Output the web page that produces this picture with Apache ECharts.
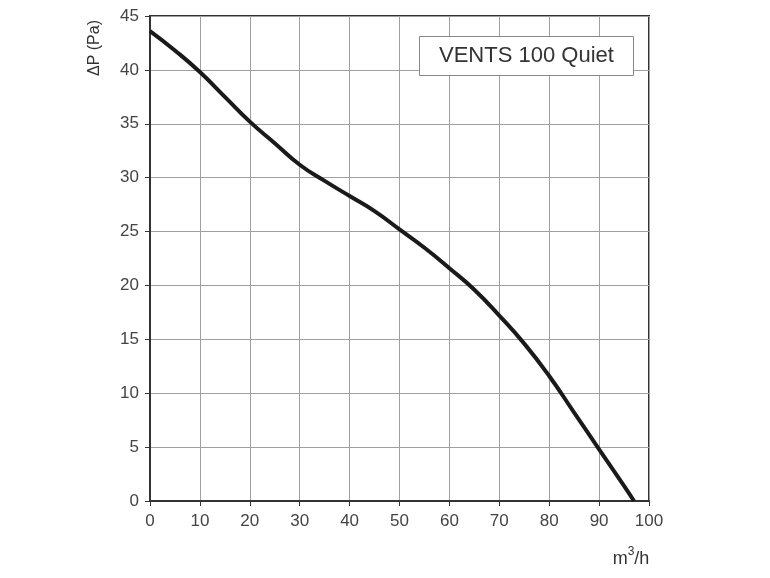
<!DOCTYPE html>
<html><head><meta charset="utf-8">
<script src="https://cdn.jsdelivr.net/npm/echarts@6/dist/echarts.min.js"></script>
<style>html,body{margin:0;padding:0;background:#fff}#c{width:770px;height:578px}</style>
</head><body><div id="c"></div>
<script>
const flow = [0, 5, 10, 15, 20, 25, 30, 35, 40, 45, 50, 55, 60, 65, 70, 75, 80, 85, 90, 95, 97];
const pressure = [43.6, 41.8, 39.8, 37.5, 35.2, 33.2, 31.2, 29.7, 28.3, 26.9, 25.2, 23.5, 21.6, 19.6, 17.2, 14.6, 11.6, 8.2, 4.8, 1.4, 0];
const title = 'VENTS 100 Quiet';
const yName = 'ΔP (Pa)';
const xNameBase = 'm';
const xNameSup = '3';
const xNameTail = '/h';

const chart = echarts.init(document.getElementById('c'));
const FONT = 'Liberation Sans, Arial';
const axisCommon = {
  axisLine: {show: true, lineStyle: {color: '#333', width: 2}},
  axisTick: {show: true, length: 5, lineStyle: {color: '#333'}},
  splitLine: {show: true, lineStyle: {color: '#a0a0a0', width: 1}},
  axisLabel: {color: '#444', fontSize: 17, fontFamily: FONT}
};
chart.setOption({
  animation: false,
  grid: {left: 150, right: 121, top: 16, bottom: 77, show: true, borderColor: '#333', borderWidth: 2},
  title: {
    text: title, left: 419, top: 36, padding: [9, 20],
    borderColor: '#888', borderWidth: 1, backgroundColor: '#fff',
    textStyle: {fontSize: 22, fontWeight: 'normal', color: '#333', fontFamily: FONT}
  },
  xAxis: Object.assign({type: 'value', min: 0, max: 100, interval: 10}, axisCommon,
    {axisLabel: Object.assign({}, axisCommon.axisLabel, {margin: 12})}),
  yAxis: Object.assign({type: 'value', min: 0, max: 45, interval: 5}, axisCommon,
    {axisLabel: Object.assign({}, axisCommon.axisLabel, {margin: 11})}),
  graphic: [
    {type: 'text', x: 95, y: 48, rotation: Math.PI / 2,
      style: {text: yName, fontSize: 16, fill: '#333', fontFamily: FONT, align: 'center', verticalAlign: 'middle'}},
    {type: 'text', x: 631, y: 557,
      style: {
        text: '{b|' + xNameBase + '}{s|' + xNameSup + '}{b|' + xNameTail + '}',
        align: 'center', verticalAlign: 'middle',
        rich: {
          b: {fontSize: 18, fill: '#333', fontFamily: FONT, verticalAlign: 'bottom'},
          s: {fontSize: 12, fill: '#333', fontFamily: FONT, verticalAlign: 'top', padding: [0, 0, 10, 0]}
        }
      }}
  ],
  series: [{
    type: 'line', data: flow.map((x, i) => [x, pressure[i]]),
    smooth: 0.5, showSymbol: false,
    lineStyle: {color: '#1a1a1a', width: 4}
  }]
});
</script></body></html>
